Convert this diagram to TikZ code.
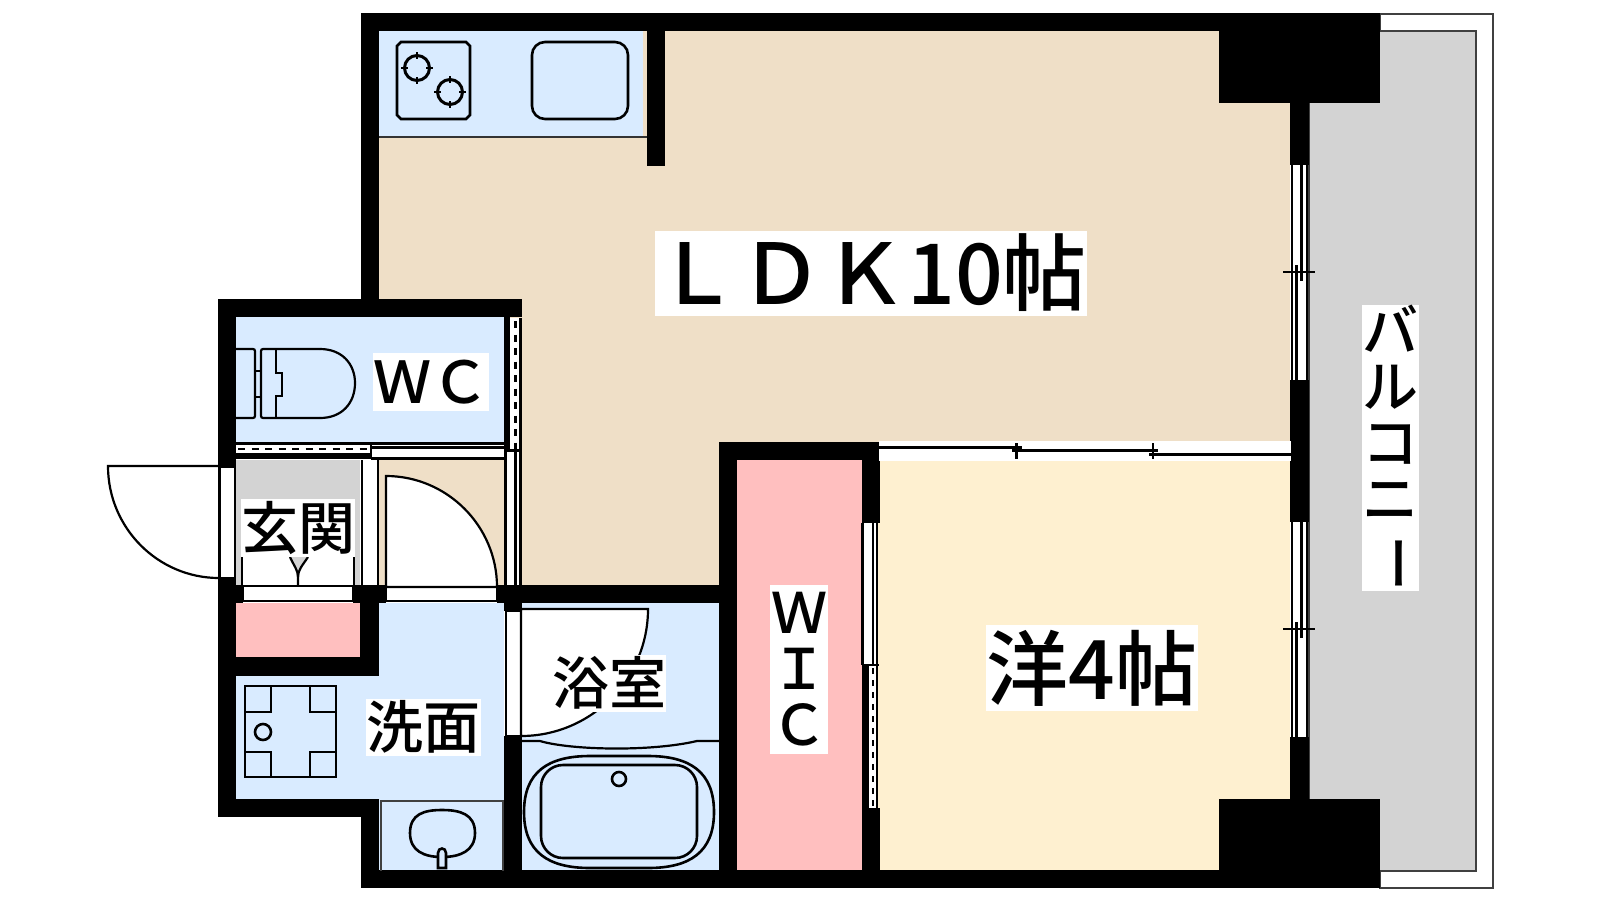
\documentclass[tikz,border=0pt]{standalone}
\usepackage{fontspec}
\setmainfont{Noto Sans CJK JP Medium}
\usetikzlibrary{calc}
\definecolor{roomblue}{RGB}{217,235,255}
\definecolor{roombeige}{RGB}{239,223,199}
\definecolor{roomyellow}{RGB}{254,240,208}
\definecolor{roompink}{RGB}{255,191,191}
\definecolor{roomgray}{RGB}{211,211,211}
\tikzset{
    wall/.style={fill=black},
    thinline/.style={draw=black, line width=2.2pt},
    fixture/.style={draw=black, line width=2.6pt},
    doorleaf/.style={draw=black, line width=2.2pt, fill=white},
    lbl/.style={fill=white, inner sep=0pt, text=black, align=center},
    dashline/.style={draw=black, line width=2.6pt, dash pattern=on 5pt off 5pt},
}
% sliding window in the right wall: y from, y to, y of the tick
\newcommand{\balconywin}[3]{
    \fill[white] (1291,#1) rectangle (1308,#2);
    \draw[thinline] (1292,#1) -- (1292,#2);
    \draw[thinline, line width=2.6pt] (1307,#1) -- (1307,#2);
    \draw[thinline] (1301.5,#1) -- (1301.5,#3+9);
    \draw[thinline] (1296.5,#3-7) -- (1296.5,#2);
    \draw[thinline] (1283,#3) -- (1315,#3);
}

\begin{document}
\begin{tikzpicture}[x=1pt,y=-1pt]
    \useasboundingbox (0,0) rectangle (1600,900);
    \fill[white] (0,0) rectangle (1600,900);

    % room floors
    \fill[roombeige] (379,31) rectangle (1290,443);
    \fill[roombeige] (504,443) rectangle (719,586);
    \fill[roombeige] (378,460) rectangle (504,585);
    \fill[roomblue] (379,31) rectangle (643,137);
    \fill[roomblue] (236,317) rectangle (504,443);
    \fill[roomgray] (236,460) rectangle (360,585);
    \fill[roompink] (236,603) rectangle (360,657);
    \fill[roomblue] (379,603) rectangle (504,676);
    \fill[roomblue] (236,676) rectangle (504,799);
    \fill[roomblue] (379,799) rectangle (504,871);
    \fill[roomblue] (522,603) rectangle (719,871);
    \fill[roompink] (737,460) rectangle (862,871);
    \fill[roomyellow] (878,461) rectangle (1290,871);

    % balcony
    \draw[doorleaf, draw=black!75, line width=2pt] (1380,14) rectangle (1493,888);
    \draw[draw=black!75, fill=roomgray, line width=2pt] (1309,31) -- (1476,31) -- (1476,871) -- (1309,871) -- cycle;

    % walls
    \fill[wall] (361,13) rectangle (1380,31);
    \fill[wall] (361,13) rectangle (379,299);
    \fill[wall] (647,13) rectangle (665,166);
    \fill[wall] (1219,13) rectangle (1380,103);
    \fill[wall] (1290,103) rectangle (1309,165);
    \fill[wall] (1290,380) rectangle (1309,522);
    \fill[wall] (1290,737) rectangle (1309,799);
    \fill[wall] (1219,799) rectangle (1380,888);
    \fill[wall] (361,870) rectangle (1380,888);
    \fill[wall] (218,299) rectangle (522,317);
    \fill[wall] (218,299) rectangle (236,467);
    \fill[wall] (218,578) rectangle (236,817);
    \fill[wall] (218,585) rectangle (243,603);
    \fill[wall] (353,585) rectangle (386,603);
    \fill[wall] (497,585) rectangle (719,603);
    \fill[wall] (360,585) rectangle (379,676);
    \fill[wall] (218,657) rectangle (379,676);
    \fill[wall] (218,799) rectangle (379,817);
    \fill[wall] (361,799) rectangle (379,888);
    \fill[wall] (504,317) rectangle (510,450);
    \fill[wall] (504,603) rectangle (522,611);
    \fill[wall] (504,736) rectangle (522,870);
    \fill[wall] (719,442) rectangle (737,870);
    \fill[wall] (719,442) rectangle (880,460);
    \fill[wall] (862,460) rectangle (880,523);
    \fill[wall] (862,808) rectangle (880,870);

    % kitchen
    \draw[thinline, line width=2.4pt, draw=black!80] (379,137) -- (647,137);
    \draw[fixture] (401,42) -- (466,42) -- (470,46) -- (470,115) -- (466,119) -- (401,119) -- (397,115) -- (397,46) -- cycle;
    \draw[fixture, rounded corners=13pt] (532,42) rectangle (628,119);
    \foreach \bx/\by in {417/68, 450/92}{
        \draw[fixture, line width=3pt] (\bx,\by) circle[radius=12.5pt];
        \draw[fixture] (\bx-16,\by) -- (\bx-9,\by) (\bx+9,\by) -- (\bx+16,\by) (\bx,\by-16) -- (\bx,\by-9) (\bx,\by+9) -- (\bx,\by+16);
    }

    % toilet
    \draw[thinline, rounded corners=2pt] (236,349) -- (255,349) -- (255,418) -- (236,418);
    \draw[thinline] (255,371) -- (261,371) (255,397) -- (261,397);
    \draw[thinline, rounded corners=2pt] (320,349) -- (261,349) -- (261,418) -- (320,418);
    \draw[thinline] (320,349) .. controls (342,349) and (355,364) .. (355,383) .. controls (355,403) and (342,418) .. (320,418);
    \draw[thinline] (276,349) -- (276,373) -- (282,373) -- (282,396) -- (276,396) -- (276,418);

    % band under the wc and the wc door
    \fill[white] (236,443) rectangle (504,459);
    \draw[thinline] (236,443.5) -- (504,443.5);
    \fill[wall] (236,453) rectangle (370,459);
    \draw[thinline] (371,443) -- (371,459);
    \draw[thinline] (371,447.5) -- (504,447.5) (371,458.5) -- (504,458.5);
    \draw[dashline, dash pattern=on 7pt off 6.5pt] (238,449) -- (370,449);
    \fill[white] (510,318) rectangle (520,450);
    \draw[thinline] (520.5,318) -- (520.5,450);
    \draw[dashline, dash pattern=on 7pt off 6.5pt] (515.5,321) -- (515.5,450);

    % sliding door next to the hall
    \fill[white] (505,450) rectangle (521,585);
    \draw[thinline] (505.5,450) -- (505.5,585) (515.5,450) -- (515.5,585) (520.5,450) -- (520.5,585);
    \draw[thinline] (505,450.5) -- (521,450.5);

    % hall
    \fill[white] (362,460) rectangle (378,585);
    \draw[thinline] (362,460) -- (362,585) (378,460) -- (378,585);
    \fill[white] (242,557) rectangle (354,585);
    \fill[roomgray] (290,557) .. controls (294,566) and (298,570) .. (298,577) .. controls (298,570) and (302,566) .. (308,557) -- cycle;
    \draw[thinline] (290,557) .. controls (294,566) and (298,570) .. (298,577) -- (298,585);
    \draw[thinline] (308,557) .. controls (302,566) and (298,570) .. (298,577);
    \draw[thinline] (242,557) -- (242,585) (354,557) -- (354,585);
    \draw[doorleaf] (243,586) rectangle (353,601);
    \draw[doorleaf] (386,586) rectangle (497,601);
    \draw[doorleaf] (386,587) -- (386,476) .. controls (447,476) and (497,526) .. (497,587) -- cycle;

    % entrance door
    \draw[doorleaf] (219.5,467) rectangle (235,578);
    \draw[thinline] (219,466) -- (108,466) .. controls (108,528) and (158,578) .. (219,578);

    % washing machine pan
    \draw[fixture] (245,686) rectangle (336,777);
    \draw[fixture] (245,712) -- (271,712) -- (271,686) (310,686) -- (310,712) -- (336,712);
    \draw[fixture] (245,752) -- (271,752) -- (271,777) (310,777) -- (310,752) -- (336,752);
    \draw[fixture] (263,732) circle[radius=8pt];

    % basin
    \draw[thinline, draw=black!75] (380,801) -- (504,801);
    \draw[thinline, draw=black!75] (381,801) -- (381,871) (503,801) -- (503,871);
    \draw[fixture] (442,810) .. controls (460,810) and (475,814) .. (475,833) .. controls (475,851) and (460,857) .. (442,857) .. controls (424,857) and (410,851) .. (410,833) .. controls (410,814) and (424,810) .. (442,810) -- cycle;
    \draw[fixture, fill=roomblue] (438,868) -- (438,853) .. controls (438,847) and (446,847) .. (446,853) -- (446,868) -- cycle;

    % bath
    \fill[white] (506,611) rectangle (521,736);
    \draw[thinline] (506,611) rectangle (521,736);
    \draw[doorleaf] (521,609) -- (648,609) .. controls (648,679) and (591,736) .. (521,736) -- cycle;
    \draw[thinline] (522,741) -- (540,741) .. controls (570,750) and (650,752) .. (697,741) -- (719,741);
    \draw[fixture] (524,812) .. controls (524,772) and (548,756) .. (590,756) -- (648,756) .. controls (690,756) and (714,772) .. (714,812) .. controls (714,852) and (690,868) .. (648,868) -- (590,868) .. controls (548,868) and (524,852) .. (524,812) -- cycle;
    \draw[fixture, rounded corners=22pt] (541,765) rectangle (697,858);
    \draw[fixture] (619,779) circle[radius=7pt];

    % wic window, upper part slides and lower part has a screen
    \fill[white] (862,523) rectangle (877,808);
    \draw[thinline] (862.5,523) -- (862.5,665) (873,523) -- (873,665);
    \draw[thinline, line width=2.4pt] (877,523) -- (877,808);
    \fill[wall] (862,665) rectangle (869,808);
    \draw[thinline] (862,665) -- (879,665);
    \draw[dashline, dash pattern=on 6pt off 6pt] (873,668) -- (873,808);

    % sliding doors of the western room
    \fill[white] (879,441) rectangle (1291,461);
    \draw[thinline] (879,447.5) -- (1022,447.5);
    \draw[thinline] (1012,450.5) -- (1158,450.5);
    \draw[thinline] (1149,454.5) -- (1291,454.5);
    \draw[thinline] (1016.5,443) -- (1016.5,459);
    \draw[thinline] (1153,443) -- (1153,459);

    % balcony windows
    \balconywin{165}{380}{272}
    \balconywin{522}{737}{629}

    % labels
    \node[lbl, minimum width=430pt, minimum height=85pt, font=\fontsize{84}{84}\selectfont] (ldk) at (871,273) {ＬＤＫ10帖};
    \node[lbl, minimum width=212pt, minimum height=86pt, font=\fontsize{82}{82}\selectfont] (yo) at (1092,668) {洋4帖};
    \node[lbl, minimum width=116pt, minimum height=58pt, font=\fontsize{58}{58}\selectfont] (wc) at (431,382) {ＷＣ};
    \node[lbl, minimum width=114pt, minimum height=58pt, font=\fontsize{57}{57}\selectfont] (genkan) at (298,528) {玄関};
    \node[lbl, minimum width=115pt, minimum height=57pt, font=\fontsize{57}{57}\selectfont] (senmen) at (423,727) {洗面};
    \node[lbl, minimum width=114pt, minimum height=57pt, font=\fontsize{57}{57}\selectfont] (yokushitsu) at (609,683) {浴室};
    \node[lbl, minimum width=58pt, minimum height=169pt, font=\fontsize{56}{56}\selectfont] (wic) at (799,669) {Ｗ\\Ｉ\\Ｃ};
    \node[lbl, minimum width=57pt, minimum height=285pt, font=\fontsize{56}{56}\selectfont] (balcony) at (1390,448) {バ\\ル\\コ\\ニ\\\rotatebox[origin=c]{-90}{ー}};

\end{tikzpicture}
\end{document}
